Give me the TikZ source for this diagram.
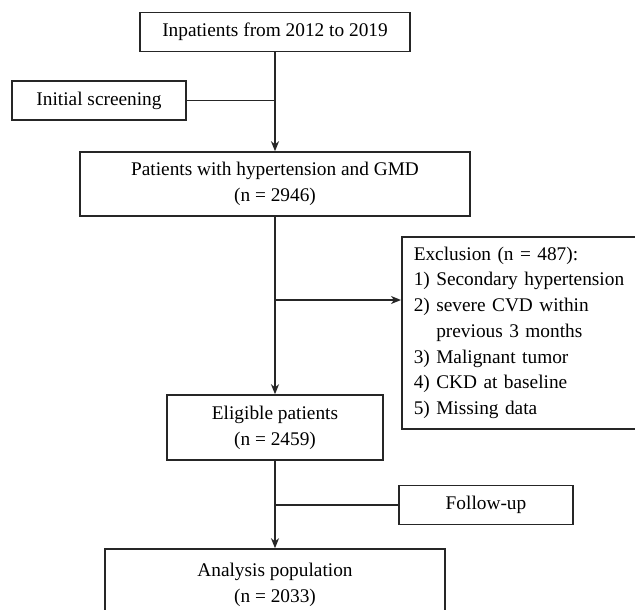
\documentclass[tikz,border=0pt]{standalone}
\usepackage{fontspec}
\setmainfont{Liberation Serif}
\usetikzlibrary{arrows.meta}
\begin{document}
\begin{tikzpicture}[x=0.03cm,y=-0.03cm,
  box/.style={draw=black!85,line width=1.3pt,fill=white,align=center,inner sep=0pt,
    font=\fontsize{16.5}{22}\selectfont},
  conn/.style={draw=black!85,line width=1.3pt},
  arr/.style={conn,-{Stealth[length=3mm,width=2.4mm,inset=0.9mm]}}]
\useasboundingbox (0,0) rectangle (635,610);
\node[box,minimum width=8.1cm,minimum height=1.17cm] (b1) at (275,32.2) {Inpatients from 2012 to 2019};
\node[box,minimum width=5.22cm,minimum height=1.17cm] (init) at (99,100.5) {Initial screening};
\node[box,minimum width=11.7cm,minimum height=1.92cm] (b2) at (275,184) {Patients with hypertension and GMD\\(n = 2946)};
\node[box,anchor=north west,minimum width=7.4cm,minimum height=5.76cm,align=left,
  text width=6.7cm,inner xsep=0.36cm] (excl) at (401,236)
  {Exclusion (n = 487):\\1) Secondary hypertension\\2) severe CVD within\\\phantom{2) }previous 3 months\\3) Malignant tumor\\4) CKD at baseline\\5) Missing data};
\node[box,minimum width=6.48cm,minimum height=1.95cm] (elig) at (275,427.5) {Eligible patients\\(n = 2459)};
\node[box,minimum width=5.22cm,minimum height=1.17cm] (fu) at (486,505) {Follow-up};
\node[box,minimum width=10.2cm,minimum height=2.13cm] (ana) at (275,584.5) {Analysis population\\(n = 2033)};
\coordinate (j1) at (275,100.5);
\coordinate (j2) at (275,300);
\coordinate (j3) at (275,505);
\draw[arr] (b1.south) -- (b2.north);
\draw[conn] (init.east) -- (j1);
\draw[arr] (b2.south) -- (elig.north);
\draw[arr] (j2) -- (j2 -| excl.west);
\draw[arr] (elig.south) -- (ana.north);
\draw[conn] (fu.west) -- (j3);
\end{tikzpicture}
\end{document}
